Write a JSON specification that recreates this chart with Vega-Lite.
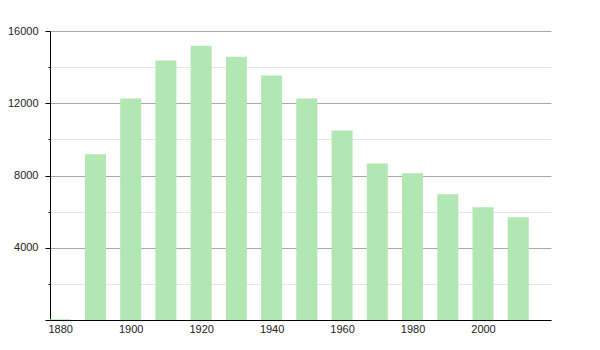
{
  "$schema": "https://vega.github.io/schema/vega-lite/v6.json",
  "autosize": {"type": "none"},
  "padding": {"left": 50, "top": 31, "right": 49, "bottom": 30},
  "width": 501,
  "height": 289,
  "background": "white",
  "config": {"view": {"stroke": null}},
  "data": {"values": [
    {"year": 1880, "pop": 40},
    {"year": 1890, "pop": 9170},
    {"year": 1900, "pop": 12260},
    {"year": 1910, "pop": 14360},
    {"year": 1920, "pop": 15190},
    {"year": 1930, "pop": 14580},
    {"year": 1940, "pop": 13530},
    {"year": 1950, "pop": 12260},
    {"year": 1960, "pop": 10490},
    {"year": 1970, "pop": 8670},
    {"year": 1980, "pop": 8120},
    {"year": 1990, "pop": 6960},
    {"year": 2000, "pop": 6240},
    {"year": 2010, "pop": 5690}
  ]},
  "mark": {"type": "bar", "size": 21, "color": "#b2e6b2"},
  "encoding": {
    "x": {
      "field": "year", "type": "quantitative",
      "scale": {"domain": [1877.1, 2019.3], "nice": false, "zero": false, "padding": 0},
      "axis": {
        "title": null, "values": [1880, 1900, 1920, 1940, 1960, 1980, 2000],
        "format": "d", "grid": false, "ticks": false,
        "domainColor": "#000", "domainWidth": 1,
        "labelFont": "Liberation Sans", "labelFontSize": 11, "labelColor": "#222",
        "labelPadding": 3
      }
    },
    "y": {
      "field": "pop", "type": "quantitative",
      "scale": {"domain": [0, 16000], "nice": false},
      "axis": {
        "title": null,
        "values": [0, 2000, 4000, 6000, 8000, 10000, 12000, 14000, 16000],
        "format": "d",
        "labelExpr": "datum.value % 4000 === 0 && datum.value > 0 ? datum.label : ''",
        "grid": true,
        "gridColor": {"condition": {"test": "datum.value % 4000 === 0", "value": "#a8a8a8"}, "value": "#e6e6e6"},
        "tickColor": "#000",
        "tickSize": {"condition": {"test": "datum.value % 4000 === 0", "value": 5}, "value": 2},
        "domainColor": "#000", "domainWidth": 1,
        "labelFont": "Liberation Sans", "labelFontSize": 11, "labelColor": "#222",
        "labelPadding": 7
      }
    }
  }
}
